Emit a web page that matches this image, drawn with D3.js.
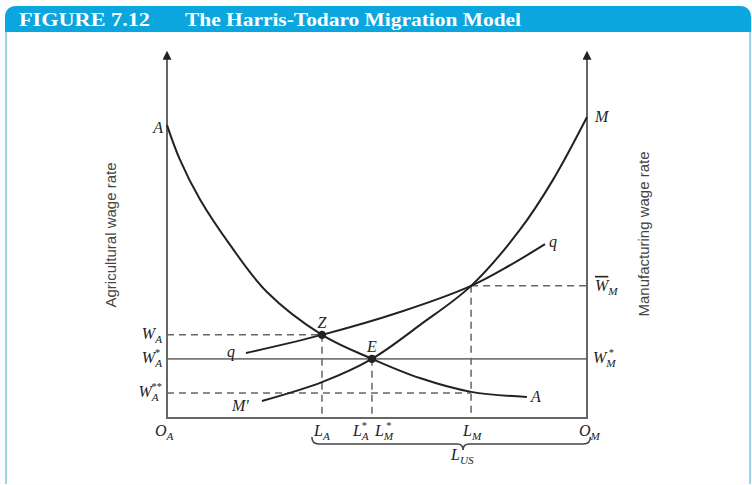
<!DOCTYPE html>
<html>
<head>
<meta charset="utf-8">
<script src="https://cdn.jsdelivr.net/npm/d3@7"></script>
<style>
  html, body { margin: 0; padding: 0; background: #fff; }
  svg { display: block; }
</style>
</head>
<body>
<div id="chart"></div>
<script>
// Curves: [labour share (O_A = 0 .. O_M = 100), wage (0 .. 100)]
const aaCurve = [[0, 80.7], [3.1, 71.1], [7.9, 60.1], [15.0, 47.7], [23.8, 34.7], [36.9, 22.9], [48.8, 16.3], [60.2, 11.0], [72.4, 7.2], [85.7, 5.8]]
const mmCurve = [[22.6, 4.7], [36.9, 9.9], [48.8, 16.3], [60.2, 25.6], [72.4, 36.4], [84.0, 51.8], [91.9, 65.6], [100, 82.9]]
const qqCurve = [[18.8, 17.9], [36.9, 22.9], [55.5, 29.2], [72.4, 36.4], [81.7, 42.1], [90.0, 47.9]]

// Labour positions L_A, L_A*, L_M and wage levels W_A, W_A*, W_A**, W_M-bar
const labourMarks = [36.9, 48.8, 72.4]
const wageLevels = [22.9, 16.3, 6.9, 36.4]

const W = 752, H = 485
const svg = d3.select('#chart').append('svg').attr('width', W).attr('height', H)

const x = d3.scaleLinear().domain([0, 100]).range([167, 587])
const y = d3.scaleLinear().domain([0, 100]).range([418, 55])

const serif = '"Liberation Serif", "DejaVu Serif", serif'
const ink = '#222'
const axisCol = '#666'

// Frame + header
svg.append('rect').attr('x', 0).attr('y', 0).attr('width', W).attr('height', H).attr('fill', '#fbfdfe')
svg.append('path')
  .attr('d', `M6,484 L6,18 Q6,7 17,7 L739,7 Q750,7 750,18 L750,484`)
  .attr('fill', '#fff').attr('stroke', '#9dd3ea').attr('stroke-width', 2)
svg.append('path')
  .attr('d', `M5,32 L5,18 Q5,6 17,6 L739,6 Q751,6 751,18 L751,32 Z`)
  .attr('fill', '#0ba6de')
svg.append('text').attr('x', 19).attr('y', 26)
  .attr('fill', '#fff').style('font-family', serif).style('font-size', '19px').style('font-weight', 'bold')
  .attr('textLength', 131).attr('lengthAdjust', 'spacingAndGlyphs')
  .text('FIGURE 7.12')
svg.append('text').attr('x', 185).attr('y', 26)
  .attr('fill', '#fff').style('font-family', serif).style('font-size', '19px').style('font-weight', 'bold')
  .attr('textLength', 336).attr('lengthAdjust', 'spacingAndGlyphs')
  .text('The Harris-Todaro Migration Model')

// Arrow marker
svg.append('defs').append('marker')
  .attr('id', 'arr').attr('viewBox', '0 0 10 10').attr('refX', 2).attr('refY', 5)
  .attr('markerWidth', 11).attr('markerHeight', 9).attr('markerUnits', 'userSpaceOnUse')
  .attr('orient', 'auto')
  .append('path').attr('d', 'M0,0 L10,5 L0,10 Z').attr('fill', ink)

const g = svg.append('g')

// Reference lines
const dash = '7,5'
const [LA, LAs, LM] = labourMarks
const [WA, WAs, WAss, WMbar] = wageLevels
g.append('line').attr('x1', x(0)).attr('x2', x(100)).attr('y1', y(WAs)).attr('y2', y(WAs))
  .attr('stroke', '#777').attr('stroke-width', 1.6)
const dashed = [
  [0, WA, LA, WA], [LA, WA, LA, 0],
  [0, WAss, LM, WAss], [LAs, WAs, LAs, 0],
  [LM, WMbar, LM, 0], [LM, WMbar, 100, WMbar]
]
dashed.forEach(d => {
  g.append('line').attr('x1', x(d[0])).attr('y1', y(d[1])).attr('x2', x(d[2])).attr('y2', y(d[3]))
    .attr('stroke', '#666').attr('stroke-width', 1.5).attr('stroke-dasharray', dash)
})

// Axes
g.append('line').attr('x1', x(0)).attr('x2', x(0)).attr('y1', y(0) + 1).attr('y2', 58)
  .attr('stroke', axisCol).attr('stroke-width', 2).attr('marker-end', 'url(#arr)')
g.append('line').attr('x1', x(100)).attr('x2', x(100)).attr('y1', y(0) + 1).attr('y2', 58)
  .attr('stroke', axisCol).attr('stroke-width', 2).attr('marker-end', 'url(#arr)')
g.append('line').attr('x1', x(0)).attr('x2', x(100)).attr('y1', y(0)).attr('y2', y(0))
  .attr('stroke', axisCol).attr('stroke-width', 2)

// Curves
const line = d3.line().x(d => x(d[0])).y(d => y(d[1])).curve(d3.curveCatmullRom.alpha(0.5))
;[aaCurve, mmCurve, qqCurve].forEach(c => {
  g.append('path').attr('d', line(c)).attr('fill', 'none').attr('stroke', ink).attr('stroke-width', 2)
})

// Equilibrium dots
g.append('circle').attr('cx', x(LA)).attr('cy', y(WA)).attr('r', 4.2).attr('fill', ink)
g.append('circle').attr('cx', x(LAs)).attr('cy', y(WAs)).attr('r', 4.2).attr('fill', ink)

// Math-style labels
function label(px, py, main, sub, sup, anchor = 'start', size = 16) {
  const t = svg.append('text').attr('x', px).attr('y', py)
    .attr('text-anchor', anchor).attr('fill', '#222')
    .style('font-family', serif).style('font-style', 'italic').style('font-size', size + 'px')
  t.append('tspan').text(main)
  if (sub) t.append('tspan').attr('dy', 4).style('font-size', (size * 0.7) + 'px').text(sub)
  if (sup) t.append('tspan').attr('dx', -(sub.length * 7)).attr('dy', -11).style('font-size', (size * 0.65) + 'px').style('font-style', 'normal').text(sup)
  return t
}

label(x(0) - 5, y(WA) + 4, 'W', 'A', null, 'end')
label(x(0) - 5, y(WAs) + 4, 'W', 'A', '*', 'end')
label(x(0) - 5, y(WAss) + 4, 'W', 'A', '**', 'end')
label(x(0) - 4, 133, 'A', null, null, 'end')
label(x(100) + 8, 122, 'M')
label(x(100) + 6, y(WAs) + 4, 'W', 'M', '*')
const wb = label(x(100) + 8, y(WMbar) + 5, 'W', 'M')
wb.select('tspan').style('text-decoration', 'overline')
label(x(aaCurve[aaCurve.length - 1][0]) + 4, 402, 'A')
label(x(mmCurve[0][0]) - 30, 411, "M'")
label(x(qqCurve[0][0]) - 19, 357, 'q')
label(x(qqCurve[qqCurve.length - 1][0]) + 4, 247, 'q')
label(x(LA), y(WA) - 7, 'Z', null, null, 'middle')
label(x(LAs), y(WAs) - 7, 'E', null, null, 'middle')

// Bottom labels
const bl = 436
label(x(0) - 12, bl, 'O', 'A')
label(x(LA) - 8, bl, 'L', 'A')
label(x(LAs) - 19, bl, 'L', 'A', '*')
label(x(LAs) + 3, bl, 'L', 'M', '*')
label(x(LM) - 8, bl, 'L', 'M')
label(x(100) - 8, bl, 'O', 'M')
label(x(70.5) - 12, 460, 'L', 'US')

// Brace under the labour segment
const bx0 = x(34.5), bx1 = x(100.8), bt = x(70.5), by = 437
const p = d3.path()
p.moveTo(bx0, by)
p.quadraticCurveTo(bx0, by + 7, bx0 + 7, by + 7)
p.lineTo(bt - 6, by + 7)
p.quadraticCurveTo(bt, by + 7, bt, by + 13)
p.quadraticCurveTo(bt, by + 7, bt + 6, by + 7)
p.lineTo(bx1 - 7, by + 7)
p.quadraticCurveTo(bx1, by + 7, bx1, by)
svg.append('path').attr('d', p.toString()).attr('fill', 'none').attr('stroke', '#444').attr('stroke-width', 1.6)

// Axis titles
svg.append('text').attr('transform', 'translate(116,235) rotate(-90)')
  .attr('text-anchor', 'middle').attr('fill', '#444')
  .style('font-family', '"Liberation Sans Narrow", "Liberation Sans", sans-serif').style('font-size', '15px')
  .text('Agricultural wage rate')
svg.append('text').attr('transform', 'translate(649,234) rotate(-90)')
  .attr('text-anchor', 'middle').attr('fill', '#444')
  .style('font-family', '"Liberation Sans Narrow", "Liberation Sans", sans-serif').style('font-size', '15px')
  .text('Manufacturing wage rate')
</script>
</body>
</html>
